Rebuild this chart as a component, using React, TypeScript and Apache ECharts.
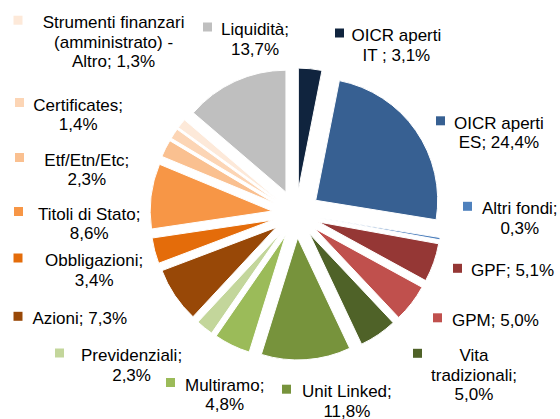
import React, { useEffect, useRef } from 'react';
import * as echarts from 'echarts';

const categories = [
  'OICR aperti IT', 'OICR aperti ES', 'Altri fondi', 'GPF', 'GPM', 'Vita tradizionali',
  'Unit Linked', 'Multiramo', 'Previdenziali', 'Azioni', 'Obbligazioni', 'Titoli di Stato',
  'Etf/Etn/Etc', 'Certificates', 'Strumenti finanzari (amministrato) - Altro', 'Liquidità',
];
const values = [3.1, 24.4, 0.3, 5.1, 5.0, 5.0, 11.8, 4.8, 2.3, 7.3, 3.4, 8.6, 2.3, 1.4, 1.3, 13.7];
const labelNames = [
  'OICR aperti\nIT ', 'OICR aperti\nES', 'Altri fondi', 'GPF', 'GPM', 'Vita\ntradizionali',
  'Unit Linked', 'Multiramo', 'Previdenziali', 'Azioni', 'Obbligazioni', 'Titoli di Stato',
  'Etf/Etn/Etc', 'Certificates', 'Strumenti finanzari\n(amministrato) -\nAltro', 'Liquidità',
];
const valueOnNewLine = [false, false, true, false, false, true, true, true, true, false, true, true, true, true, false, true];
const colors = [
  '#10243E', '#376092', '#4F81BD', '#953735', '#C0504D', '#4F6228',
  '#77933C', '#9BBB59', '#C3D69B', '#984807', '#E46C0A', '#F79646',
  '#FAC090', '#FCD5B5', '#FDE9D9', '#BFBFBF',
];
// [square left x, first-line centre y, text block left x]
const labelAnchors = [
  [335, 35.5, 351.5], [436, 123.3, 454], [463, 208.8, 482], [453, 270.8, 471],
  [433, 320.3, 452], [413, 355.8, 431], [282, 391.7, 302], [166, 385, 185],
  [55, 355.5, 81], [13.5, 318.8, 32.5], [13.5, 260.5, 45], [14, 214, 38],
  [15, 160, 44.3], [15, 105, 33.3], [13.5, 22.7, 42.7], [203, 29.5, 221],
];

const FONT = "'Liberation Sans', Arial, sans-serif";
const FS = 17;
const LH = 19.5;
const SQ = 9;

export default function App() {
  const ref = useRef<HTMLDivElement>(null);
  useEffect(() => {
    document.body.style.margin = '0';
    if (!ref.current) return;
    const chart = echarts.init(ref.current, null, { renderer: 'svg' });
    const ctx = document.createElement('canvas').getContext('2d')!;
    ctx.font = `${FS}px ${FONT}`;

    const labelElements: any[] = [];
    categories.forEach((_, i) => {
      const valText = values[i].toFixed(1).replace('.', ',') + '%';
      const full = labelNames[i] + (valueOnNewLine[i] ? ';\n' : '; ') + valText;
      const lines = full.split('\n');
      const W = Math.max(...lines.map((l) => ctx.measureText(l).width));
      const a = labelAnchors[i];
      labelElements.push({
        type: 'rect',
        silent: true,
        shape: { x: a[0], y: a[1] - 2.5 - SQ / 2, width: SQ, height: SQ },
        style: { fill: colors[i] },
      });
      labelElements.push({
        type: 'text',
        silent: true,
        x: a[2] + W / 2,
        y: a[1] - LH / 2,
        style: {
          text: full,
          fill: '#000',
          fontSize: FS,
          fontFamily: FONT,
          lineHeight: LH,
          align: 'center',
          textAlign: 'center',
          verticalAlign: 'top',
          textVerticalAlign: 'top',
        },
      });
    });

    const data = categories.map((name, i) => ({
      name,
      value: values[i],
      selected: true,
      itemStyle: { color: colors[i] },
    }));

    chart.setOption({
      animation: false,
      series: [
        {
          type: 'pie',
          center: [296, 214],
          radius: [0, 122],
          startAngle: 90,
          clockwise: true,
          selectedMode: 'multiple',
          selectedOffset: 24,
          avoidLabelOverlap: false,
          itemStyle: { borderColor: '#fff', borderWidth: 1 },
          label: { show: false },
          labelLine: { show: false },
          emphasis: { disabled: true },
          data,
        },
      ],
      graphic: { elements: labelElements },
    });
    return () => chart.dispose();
  }, []);
  return <div ref={ref} style={{ width: 560, height: 419 }} />;
}
